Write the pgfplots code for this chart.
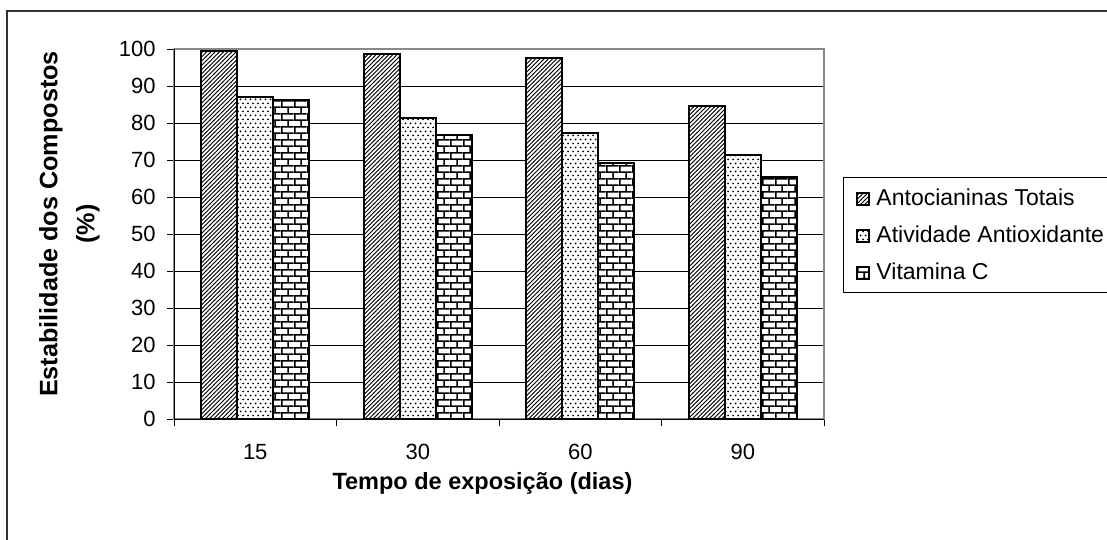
\documentclass[border=0pt]{standalone}
\usepackage{fontspec}
\setmainfont{Liberation Sans}
\usepackage{pgfplots}
\pgfplotsset{compat=1.18}
\usetikzlibrary{patterns}

\pgfdeclarepatternformonly{myhatch}{\pgfqpoint{-1pt}{-1pt}}{\pgfqpoint{3.1pt}{3.1pt}}{\pgfqpoint{2.1pt}{2.1pt}}{%
  \pgfsetlinewidth{0.45pt}%
  \pgfpathmoveto{\pgfqpoint{-0.1pt}{-0.1pt}}%
  \pgfpathlineto{\pgfqpoint{2.2pt}{2.2pt}}%
  \pgfusepath{stroke}}
\pgfdeclarepatternformonly{mydots}{\pgfqpoint{-0.6pt}{-0.6pt}}{\pgfqpoint{3pt}{4.5pt}}{\pgfqpoint{2.5pt}{4pt}}{%
  \pgfpathcircle{\pgfqpoint{0.3pt}{0.3pt}}{0.5pt}%
  \pgfpathcircle{\pgfqpoint{1.55pt}{2.3pt}}{0.5pt}%
  \pgfusepath{fill}}
\pgfdeclarepatternformonly{mybricks}{\pgfpointorigin}{\pgfqpoint{6.4pt}{6.7pt}}{\pgfqpoint{6.4pt}{6.7pt}}{%
  \pgfsetlinewidth{0.8pt}%
  \pgfpathmoveto{\pgfqpoint{0pt}{0.4pt}}\pgfpathlineto{\pgfqpoint{6.4pt}{0.4pt}}%
  \pgfpathmoveto{\pgfqpoint{0pt}{3.75pt}}\pgfpathlineto{\pgfqpoint{6.4pt}{3.75pt}}%
  \pgfpathmoveto{\pgfqpoint{0.4pt}{0.4pt}}\pgfpathlineto{\pgfqpoint{0.4pt}{3.75pt}}%
  \pgfpathmoveto{\pgfqpoint{3.6pt}{3.75pt}}\pgfpathlineto{\pgfqpoint{3.6pt}{7.1pt}}%
  \pgfusepath{stroke}}

\definecolor{framecol}{RGB}{51,51,51}
\definecolor{bordercol}{RGB}{136,136,136}

\pgfplotsset{mylegend/.style={legend image code/.code={%
  \draw[##1, line width=0.5pt] (0pt,-3.75pt) rectangle (6pt,2.25pt);}}}

\begin{document}
\begin{tikzpicture}
\useasboundingbox (0pt,0pt) rectangle (553.5pt,270pt);
\clip (0pt,0pt) rectangle (553.5pt,270pt);
\fill[white] (0pt,0pt) rectangle (553.5pt,270pt);
\draw[line width=1pt, framecol] (3.5pt,-3pt) -- (3.5pt,264.5pt) -- (558pt,264.5pt);
\begin{axis}[
  at={(87pt,60.35pt)}, anchor=south west,
  scale only axis, width=325pt, height=185pt,
  xmin=-0.5, xmax=3.5, ymin=0, ymax=100,
  ytick={0,10,...,100},
  xtick={-0.5,0.5,1.5,2.5,3.5}, xticklabels={},
  extra x ticks={0,1,2,3}, extra x tick labels={15,30,60,90},
  extra x tick style={major tick length=0pt, grid=none},
  tick align=outside, major tick length=3.5pt,
  xtick pos=bottom, ytick pos=left,
  tick style={black, line width=0.5pt},
  ymajorgrids, grid style={black, line width=0.5pt},
  axis line style={draw=bordercol, line width=1pt},
  /pgf/number format/assume math mode=true,
  tick label style={font=\fontsize{11}{13}\selectfont},
  xticklabel style={anchor=base, yshift=-20.3pt},
  yticklabel style={anchor=east, inner sep=0pt, xshift=-5.5pt},
  ybar=0pt, bar width=18pt,
  xlabel={Tempo de exposição (dias)},
  xlabel style={at={(axis description cs:0.4746,-0.191)}, anchor=base, font=\bfseries\fontsize{11.75}{14}\selectfont},
  ylabel={Estabilidade dos Compostos\\(\%)},
  ylabel style={at={(axis description cs:-0.1608,0.528)}, anchor=center, align=center, font=\bfseries\fontsize{12.6}{18.5}\selectfont},
  legend style={at={(1.0292,0.6549)}, anchor=north west, draw=black, line width=0.5pt,
    font=\fontsize{11.5}{13}\selectfont, inner xsep=6.5pt, inner ysep=5pt, row sep=8pt,
    nodes={inner sep=0pt, text height=9pt, text depth=1.5pt},
    /tikz/every odd column/.append style={column sep=3.5pt}},
  legend cell align=left,
]
\addplot[draw=black, line width=1pt, preaction={fill=white}, pattern=myhatch, mylegend]
  coordinates {(0,99.6) (1,98.6) (2,97.6) (3,84.8)};
\addplot[draw=black, line width=1pt, preaction={fill=white}, pattern=mydots, mylegend]
  coordinates {(0,87.2) (1,81.4) (2,77.3) (3,71.4)};
\addplot[draw=black, line width=1pt, preaction={fill=white}, pattern=mybricks, mylegend]
  coordinates {(0,86.3) (1,76.9) (2,69.4) (3,65.6)};
\legend{Antocianinas Totais, Atividade Antioxidante, Vitamina C}
\draw[black, line width=0.75pt] (rel axis cs:0,0) -- (rel axis cs:0,1);
\draw[black, line width=0.75pt] (rel axis cs:0,0) -- (rel axis cs:1,0);
\end{axis}
\end{tikzpicture}
\end{document}
